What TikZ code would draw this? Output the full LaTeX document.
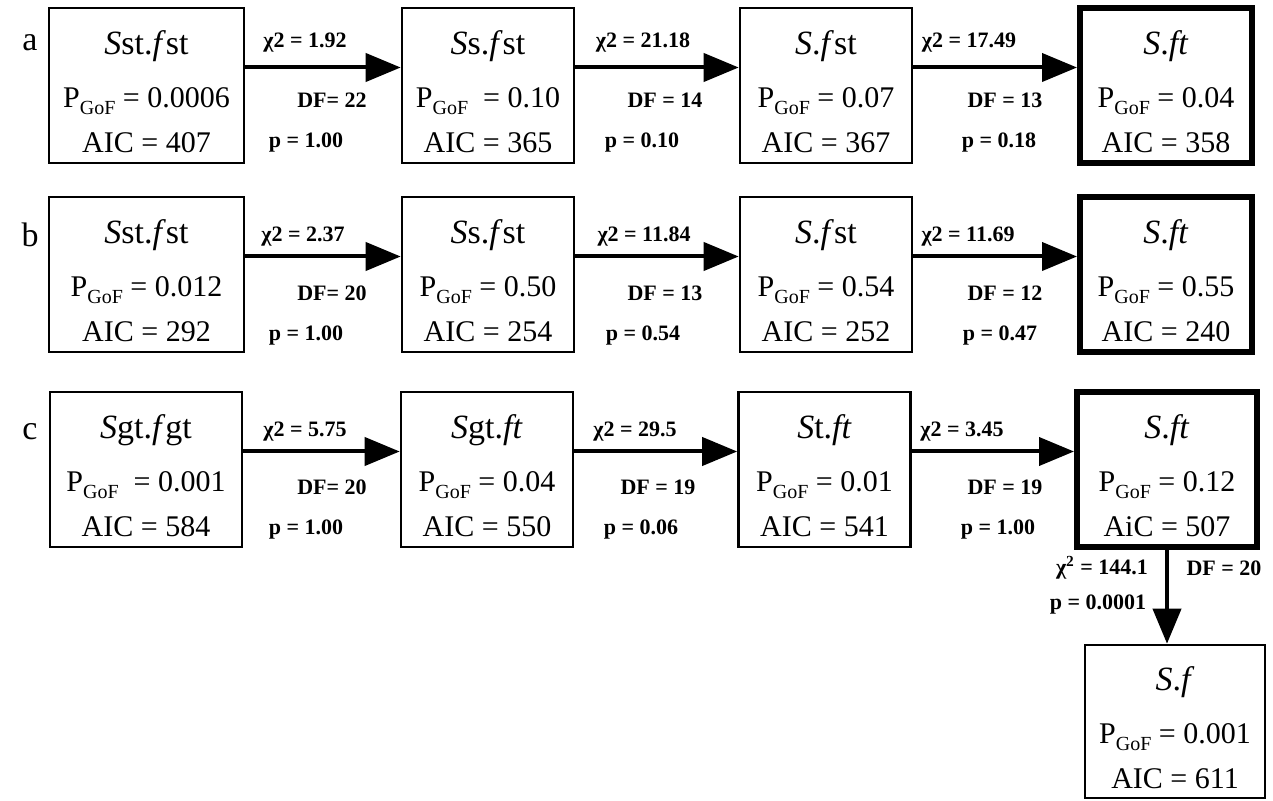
\documentclass[tikz,border=0pt]{standalone}
\usepackage{fontspec}
\setmainfont{Liberation Serif}
\usetikzlibrary{arrows.meta, positioning}

\newcommand{\pgof}{P\raisebox{-0.5ex}{\fontsize{10}{10}\selectfont GoF}}
\newcommand{\mtitle}[1]{{\fontsize{17}{17}\selectfont\rule{0pt}{18pt}#1}}

\begin{document}
\begin{tikzpicture}[x=0.5pt, y=-0.5pt]

\tikzset{
  mbox/.style    = {rectangle, draw=black, line width=1.3pt, minimum width=86pt,
                    minimum height=77.5pt, align=center, inner sep=0pt,
                    font=\fontsize{15}{22.5}\selectfont},
  best/.style    = {mbox, line width=3pt},
  arr/.style     = {-{Triangle[length=17.5pt,width=14pt]}, line width=2pt, black},
  elbl/.style    = {font=\fontsize{11}{11}\selectfont\bfseries, inner sep=1pt},
  rowlbl/.style  = {font=\fontsize{17}{17}\selectfont, inner sep=0pt}
}

\useasboundingbox (0,0) rectangle (1273,801);

%% ── Row labels ──────────────────────────────────────────────────
\node[rowlbl] (la) at (30, 43)  {a};
\node[rowlbl] (lb) at (30, 235) {b};
\node[rowlbl] (lc) at (30, 432) {c};

%% ── Row a ───────────────────────────────────────────────────────
\node[mbox, minimum width=97.5pt] (a1) at (146.5, 85.5)
      {\mtitle{\textit{S}st.\textit{f}st}\\[4pt] \pgof{} = 0.0006\\ AIC = 407};
\node[mbox] (a2) at (488, 85.5)
      {\mtitle{\textit{S}s.\textit{f}st}\\[4pt] \pgof{}~ = 0.10\\ AIC = 365};
\node[mbox] (a3) at (826, 85.5)
      {\mtitle{\textit{S}.\textit{f}st}\\[4pt] \pgof{} = 0.07\\ AIC = 367};
\node[best] (a4) at (1166, 85.5)
      {\mtitle{\textit{S}.\textit{ft}}\\[4pt] \pgof{} = 0.04\\ AIC = 358};

\node[elbl] (chiA1) at (305, 43)  {χ2 = 1.92};
\node[elbl] (dfA1)  at (332, 100) {DF= 22};
\node[elbl] (pA1)   at (306, 143) {p = 1.00};
\node[elbl] (chiA2) at (643, 43)  {χ2 = 21.18};
\node[elbl] (dfA2)  at (665, 100) {DF = 14};
\node[elbl] (pA2)   at (642, 143) {p = 0.10};
\node[elbl] (chiA3) at (969, 43)  {χ2 = 17.49};
\node[elbl] (dfA3)  at (1005, 100) {DF = 13};
\node[elbl] (pA3)   at (999, 143) {p = 0.18};

%% ── Row b ───────────────────────────────────────────────────────
\node[mbox, minimum width=97.5pt] (b1) at (146.5, 274.5)
      {\mtitle{\textit{S}st.\textit{f}st}\\[4pt] \pgof{} = 0.012\\ AIC = 292};
\node[mbox] (b2) at (488, 274.5)
      {\mtitle{\textit{S}s.\textit{f}st}\\[4pt] \pgof{} = 0.50\\ AIC = 254};
\node[mbox] (b3) at (826, 274.5)
      {\mtitle{\textit{S}.\textit{f}st}\\[4pt] \pgof{} = 0.54\\ AIC = 252};
\node[best] (b4) at (1166, 274.5)
      {\mtitle{\textit{S}.\textit{ft}}\\[4pt] \pgof{} = 0.55\\ AIC = 240};

\node[elbl] (chiB1) at (303, 237)  {χ2 = 2.37};
\node[elbl] (dfB1)  at (332, 293)  {DF= 20};
\node[elbl] (pB1)   at (306, 336)  {p = 1.00};
\node[elbl] (chiB2) at (644, 237)  {χ2 = 11.84};
\node[elbl] (dfB2)  at (665, 293)  {DF = 13};
\node[elbl] (pB2)   at (643, 336)  {p = 0.54};
\node[elbl] (chiB3) at (968, 237)  {χ2 = 11.69};
\node[elbl] (dfB3)  at (1005, 293) {DF = 12};
\node[elbl] (pB3)   at (1000, 336) {p = 0.47};

%% ── Row c ───────────────────────────────────────────────────────
\node[mbox, minimum width=96pt] (c1) at (146, 469.5)
      {\mtitle{\textit{S}gt.\textit{f}gt}\\[4pt] \pgof{}~ = 0.001\\ AIC = 584};
\node[mbox] (c2) at (487, 469.5)
      {\mtitle{\textit{S}gt.\textit{ft}}\\[4pt] \pgof{} = 0.04\\ AIC = 550};
\node[mbox] (c3) at (824.5, 469.5)
      {\mtitle{\textit{S}t.\textit{ft}}\\[4pt] \pgof{} = 0.01\\ AIC = 541};
\node[best, minimum width=90pt] (c4) at (1167, 469.5)
      {\mtitle{\textit{S}.\textit{ft}}\\[4pt] \pgof{} = 0.12\\ AiC = 507};
\node[mbox, minimum width=90pt, minimum height=76.5pt] (c5) at (1175, 721.5)
      {\mtitle{\textit{S}.\textit{f}}\\[4pt] \pgof{} = 0.001\\ AIC = 611};

\node[elbl] (chiC1) at (305, 432)  {χ2 = 5.75};
\node[elbl] (dfC1)  at (332, 487)  {DF= 20};
\node[elbl] (pC1)   at (306, 530)  {p = 1.00};
\node[elbl] (chiC2) at (635, 432)  {χ2 = 29.5};
\node[elbl] (dfC2)  at (658, 487)  {DF = 19};
\node[elbl] (pC2)   at (641, 530)  {p = 0.06};
\node[elbl] (chiC3) at (962, 432)  {χ2 = 3.45};
\node[elbl] (dfC3)  at (1005, 487) {DF = 19};
\node[elbl] (pC3)   at (998, 530)  {p = 1.00};
\node[elbl] (chiC4) at (1102, 568) {χ\textsuperscript{2} = 144.1};
\node[elbl] (dfC4)  at (1224, 568) {DF = 20};
\node[elbl] (pC4)   at (1098, 605) {p = 0.0001};

%% ── Arrows ──────────────────────────────────────────────────────
\draw[arr] ([yshift=9pt]a1.east) -- ([yshift=9pt]a2.west);
\draw[arr] ([yshift=9pt]a2.east) -- ([yshift=9pt]a3.west);
\draw[arr] ([yshift=9pt]a3.east) -- ([yshift=9pt]a4.west);

\draw[arr] ([yshift=9pt]b1.east) -- ([yshift=9pt]b2.west);
\draw[arr] ([yshift=9pt]b2.east) -- ([yshift=9pt]b3.west);
\draw[arr] ([yshift=9pt]b3.east) -- ([yshift=9pt]b4.west);

\draw[arr] ([yshift=9pt]c1.east) -- ([yshift=9pt]c2.west);
\draw[arr] ([yshift=9pt]c2.east) -- ([yshift=9pt]c3.west);
\draw[arr] ([yshift=9pt]c3.east) -- ([yshift=9pt]c4.west);
\draw[arr] (c4.south) -- (c4.south |- c5.north);

\end{tikzpicture}
\end{document}
